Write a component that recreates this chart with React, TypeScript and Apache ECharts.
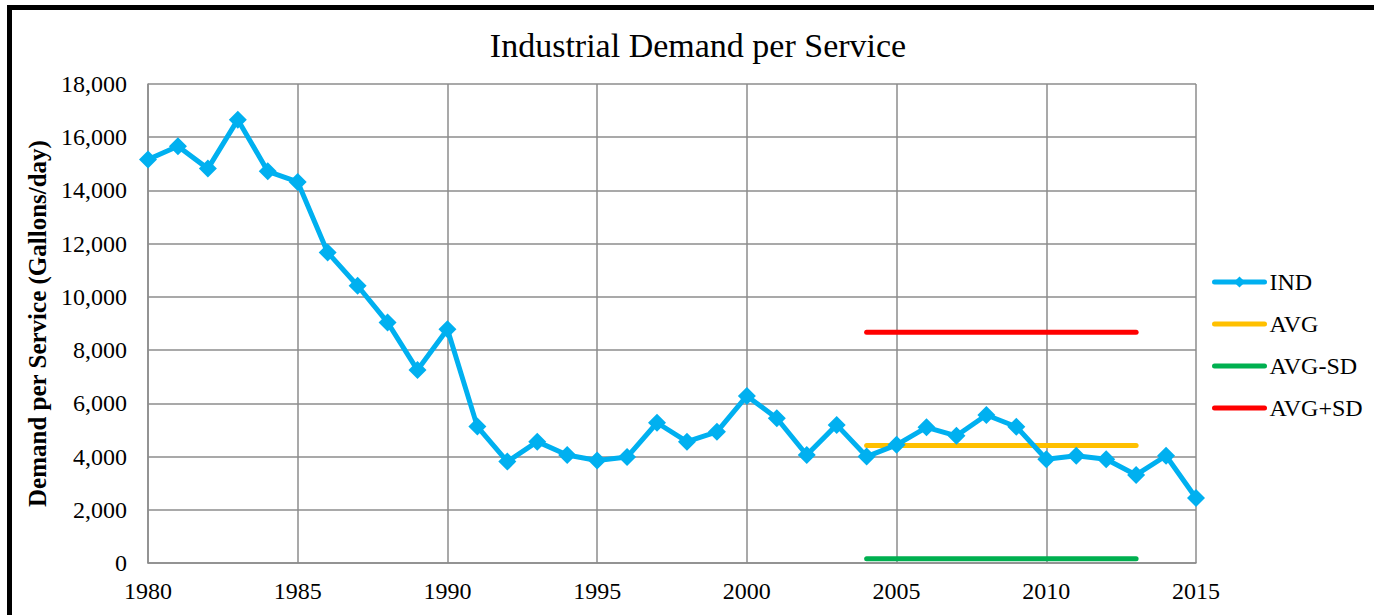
import React, { useEffect, useRef } from "react";
import * as echarts from "echarts";

const years = [
  1980, 1981, 1982, 1983, 1984, 1985, 1986, 1987, 1988, 1989,
  1990, 1991, 1992, 1993, 1994, 1995, 1996, 1997, 1998, 1999,
  2000, 2001, 2002, 2003, 2004, 2005, 2006, 2007, 2008, 2009,
  2010, 2011, 2012, 2013, 2014, 2015,
];
const indValues = [
  15160, 15660, 14820, 16660, 14720, 14320, 11670, 10420, 9040, 7250,
  8780, 5125, 3810, 4560, 4060, 3850, 3980, 5270, 4560, 4930,
  6280, 5440, 4060, 5190, 4000, 4440, 5100, 4780, 5560, 5120,
  3900, 4030, 3900, 3310, 4030, 2440,
];
const statYears = [2004, 2013];
const avgLine = [4412, 4412];
const avgMinusSd = [157, 157];
const avgPlusSd = [8667, 8667];

const FONT = "'Liberation Serif', 'Times New Roman', serif";

export default function App() {
  const ref = useRef<HTMLDivElement>(null);
  useEffect(() => {
    if (!ref.current) return;
    const chart = echarts.init(ref.current, null, { renderer: "svg" });
    const pair = (xs: number[], ys: number[]) => xs.map((x, i) => [x, ys[i]]);
    const statSeries = (name: string, color: string, vals: number[]) => ({
      name,
      type: "line",
      data: pair(statYears, vals),
      showSymbol: false,
      lineStyle: { color, width: 5, cap: "round" },
      itemStyle: { color, opacity: 0 },
      z: 3,
    });
    chart.setOption({
      animation: false,
      backgroundColor: "#ffffff",
      title: {
        text: "Industrial Demand per Service",
        left: 698,
        top: 28,
        textAlign: "center",
        padding: 0,
        textStyle: { fontFamily: FONT, fontSize: 34, fontWeight: "normal", color: "#000" },
      },
      legend: {
        orient: "vertical",
        left: 1212,
        top: 270,
        padding: 0,
        itemWidth: 50,
        itemHeight: 14,
        itemGap: 18,
        lineStyle: { width: 5, cap: "round" },
        textStyle: { fontFamily: FONT, fontSize: 24, color: "#000", lineHeight: 24 },
        data: ["IND", "AVG", "AVG-SD", "AVG+SD"],
      },
      grid: { left: 148, right: 178, top: 84, bottom: 52, containLabel: false },
      xAxis: {
        type: "value",
        min: 1980,
        max: 2015,
        interval: 5,
        axisLine: { show: true, lineStyle: { color: "#8c8c8c", width: 1.5 } },
        axisTick: { show: false },
        splitLine: { show: true, lineStyle: { color: "#8c8c8c", width: 1.5 } },
        axisLabel: { fontFamily: FONT, fontSize: 24, color: "#000", margin: 16, formatter: (v: number) => String(v) },
      },
      yAxis: {
        type: "value",
        min: 0,
        max: 18000,
        interval: 2000,
        name: "Demand per Service (Gallons/day)",
        nameLocation: "middle",
        nameGap: 94,
        nameTextStyle: { fontFamily: FONT, fontSize: 25, fontWeight: "bold", color: "#000" },
        axisLine: { show: true, lineStyle: { color: "#8c8c8c", width: 1.5 } },
        axisTick: { show: false },
        splitLine: { show: true, lineStyle: { color: "#8c8c8c", width: 1.5 } },
        axisLabel: {
          fontFamily: FONT,
          fontSize: 24,
          color: "#000",
          margin: 21,
          formatter: (v: number) => v.toLocaleString("en-US"),
        },
      },
      graphic: [
        {
          type: "rect",
          shape: { x: 9.5, y: 7.5, width: 1500, height: 800 },
          style: { fill: "none", stroke: "#000", lineWidth: 5 },
          silent: true,
          z: 100,
        },
      ],
      series: [
        {
          name: "IND",
          type: "line",
          data: pair(years, indValues),
          symbol: "diamond",
          symbolSize: 18,
          lineStyle: { color: "#00B0F0", width: 5 },
          itemStyle: { color: "#00B0F0" },
          z: 4,
        },
        statSeries("AVG", "#FFC000", avgLine),
        statSeries("AVG-SD", "#00B050", avgMinusSd),
        statSeries("AVG+SD", "#FF0000", avgPlusSd),
      ],
    });
    return () => chart.dispose();
  }, []);
  return (
    <div
      ref={ref}
      style={{ position: "fixed", left: 0, top: 0, width: 1374, height: 615 }}
    />
  );
}
